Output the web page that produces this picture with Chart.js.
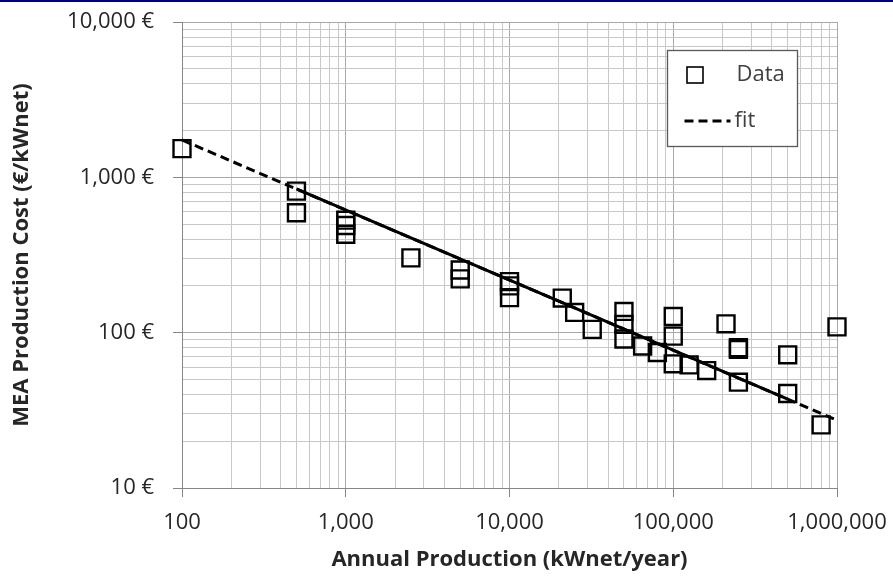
<!DOCTYPE html>
<html>
<head>
<meta charset="utf-8">
<script src="https://cdn.jsdelivr.net/npm/chart.js@4.4.1/dist/chart.umd.min.js"></script>
<style>
  html, body { margin: 0; padding: 0; background: #fff; }
  #wrap { width: 893px; height: 576px; }
</style>
</head>
<body>
<div id="wrap"><canvas id="c" width="893" height="576"></canvas></div>
<script>
// values (log-log axes)
const dataX = [100, 500, 500, 1000, 1000, 1000, 2500, 5000, 5000, 10000, 10000, 10000,
  21000, 25000, 32000, 50000, 50000, 50000, 65000, 80000, 100000, 100000, 100000,
  125000, 160000, 210000, 250000, 250000, 250000, 500000, 500000, 800000, 1000000];
const dataY = [1530, 815, 592, 530, 490, 430, 303, 253, 222, 213, 200, 168,
  167, 135, 105, 137, 113, 91, 82, 74.5, 127, 95, 63,
  62, 57, 114, 80, 78, 48, 72, 40.6, 25.5, 109];

// fit line as drawn: dashed over the full range, solid over the data range
const fitX = [100, 1000000];
const fitY = [1740, 27.3];
const fitSolidX = [500, 500000];
const fitSolidY = [843, 37.4];

const xTicks = [100, 1000, 10000, 100000, 1000000];
const xTickLabels = ['100', '1,000', '10,000', '100,000', '1,000,000'];
const yTicks = [10, 100, 1000, 10000];
const yTickLabels = ['10 €', '100 €', '1,000 €', '10,000 €'];

const FONT = "'Open Sans', sans-serif";
const TXT = '#262626';

const pts = (xs, ys) => xs.map((x, i) => ({ x, y: ys[i] }));

// log grid: 1..9 of each decade
function logGrid(majors) {
  const out = [];
  majors.forEach((m, i) => {
    if (i === majors.length - 1) { out.push(m); return; }
    for (let k = 1; k < 10; k++) out.push(m * k);
  });
  return out;
}

function logAxis(majors, labels, pad, extra) {
  const isMajor = (v) => majors.includes(v);
  return Object.assign({
    type: 'logarithmic',
    min: majors[0],
    max: majors[majors.length - 1],
    afterBuildTicks: (s) => { s.ticks = logGrid(majors).map((v) => ({ value: v, major: isMajor(v) })); },
    border: { color: '#868686', width: 1 },
    grid: {
      color: (c) => (c.tick && isMajor(c.tick.value) ? '#a8a8a8' : '#c8c8c8'),
      tickColor: (c) => (c.tick && isMajor(c.tick.value) ? '#868686' : 'rgba(0,0,0,0)'),
      tickLength: 9,
      lineWidth: 1,
    },
    ticks: {
      autoSkip: false,
      maxRotation: 0,
      padding: pad,
      color: TXT,
      font: { family: FONT, size: 22 },
      callback: (v) => { const i = majors.indexOf(v); return i >= 0 ? labels[i] : ''; },
    },
  }, extra);
}

const insideLegend = {
  id: 'insideLegend',
  beforeDraw(chart) {
    const ctx = chart.ctx;
    ctx.save();
    ctx.fillStyle = '#fff';
    ctx.fillRect(0, 0, chart.width, chart.height);
    ctx.fillStyle = '#000080';
    ctx.fillRect(0, 0, chart.width, 2);
    ctx.restore();
  },
  afterDatasetsDraw(chart) {
    const ctx = chart.ctx;
    const sets = chart.data.datasets.filter((d) => d.label);
    const bx = 667.5, by = 50.5, bw = 130, bh = 96;
    ctx.save();
    ctx.fillStyle = '#fff';
    ctx.fillRect(bx, by, bw, bh);
    ctx.strokeStyle = '#595959';
    ctx.lineWidth = 1.3;
    ctx.strokeRect(bx, by, bw, bh);
    ctx.font = `22px ${FONT}`;
    ctx.textBaseline = 'middle';
    ctx.fillStyle = '#404040';
    sets.forEach((d, i) => {
      const cy = by + 24.5 + i * 46;
      ctx.strokeStyle = '#000';
      if (d.showLine) {
        ctx.lineWidth = 3;
        ctx.setLineDash(d.borderDash || []);
        ctx.beginPath();
        ctx.moveTo(bx + 17, cy);
        ctx.lineTo(bx + 63, cy);
        ctx.stroke();
        ctx.setLineDash([]);
        ctx.fillText(d.label, bx + 67, cy);
      } else {
        ctx.lineWidth = 1.6;
        ctx.strokeRect(bx + 19.5, cy - 8, 16, 16);
        ctx.fillText(d.label, bx + 69, cy);
      }
    });
    ctx.restore();
  },
};

const titleFont = { family: FONT, size: 22, weight: 'bold' };

new Chart(document.getElementById('c'), {
  type: 'scatter',
  data: {
    datasets: [
      {
        label: 'Data',
        data: pts(dataX, dataY),
        pointStyle: 'rect',
        pointRadius: 12,
        pointBorderWidth: 2.4,
        borderColor: '#000',
        backgroundColor: 'rgba(0,0,0,0)',
        clip: false,
        order: 2,
      },
      {
        label: 'fit',
        data: pts(fitX, fitY),
        showLine: true,
        borderColor: '#000',
        borderWidth: 3,
        borderDash: [9, 5],
        pointRadius: 0,
        clip: false,
        order: 1,
      },
      {
        label: '',
        data: pts(fitSolidX, fitSolidY),
        showLine: true,
        borderColor: '#000',
        borderWidth: 3,
        pointRadius: 0,
        order: 0,
      },
    ],
  },
  options: {
    responsive: false,
    animation: false,
    layout: { padding: { top: 22, right: 56, bottom: 0, left: 0 } },
    plugins: { legend: { display: false }, tooltip: { enabled: false } },
    scales: {
      x: logAxis(xTicks, xTickLabels, 13, {
        position: 'bottom',
        title: { display: true, text: 'Annual Production (kWnet/year)', color: TXT,
          font: titleFont, padding: { top: 0, bottom: 3 } },
        afterFit: (s) => { s.height = 88; s.paddingLeft = 0; s.paddingRight = 0; },
      }),
      y: logAxis(yTicks, yTickLabels, 19, {
        position: 'left',
        title: { display: true, text: 'MEA Production Cost (€/kWnet)', color: TXT,
          font: titleFont, padding: { top: 9, bottom: 0 } },
        afterFit: (s) => { s.width = 182; s.paddingTop = 0; s.paddingBottom = 0; },
      }),
    },
  },
  plugins: [insideLegend],
});
</script>
</body>
</html>
